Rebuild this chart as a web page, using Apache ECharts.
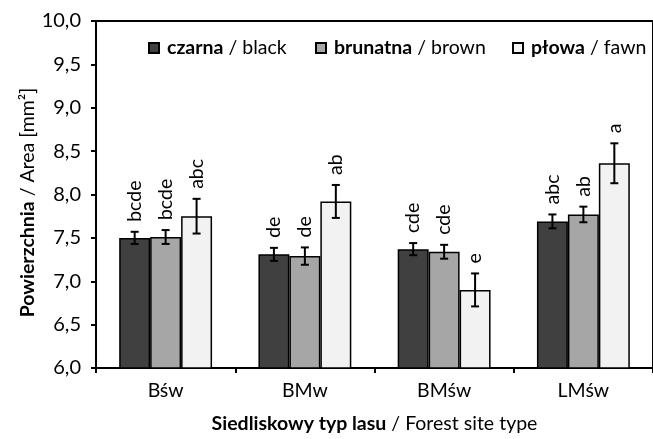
<!DOCTYPE html>
<html>
<head>
<meta charset="utf-8">
<script src="https://cdn.jsdelivr.net/npm/echarts@6/dist/echarts.min.js"></script>
<style>
  html, body { margin: 0; padding: 0; background: #fff; }
  #chart { width: 653px; height: 439px; }
</style>
</head>
<body>
<div id="chart"></div>
<script>
const categories = ['Bśw', 'BMw', 'BMśw', 'LMśw']
const seriesNames = ['czarna', 'brunatna', 'płowa']
const seriesEn = ['black', 'brown', 'fawn']

const blackVals = [7.50, 7.31, 7.37, 7.69]
const brownVals = [7.51, 7.29, 7.34, 7.77]
const fawnVals = [7.75, 7.92, 6.90, 8.36]

const blackErr = [0.07, 0.075, 0.07, 0.08]
const brownErr = [0.08, 0.10, 0.08, 0.09]
const fawnErr = [0.20, 0.19, 0.19, 0.23]

const blackLetters = ['bcde', 'de', 'cde', 'abc']
const brownLetters = ['bcde', 'de', 'cde', 'ab']
const fawnLetters = ['abc', 'ab', 'e', 'a']

const yTicks = { min: 6, max: 10, interval: 0.5 }

const FONT = 'Lato'
const FS = 19.5
const COLORS = ['#404040', '#a6a6a6', '#f2f2f2']
const GAP = 0.333

const values = [blackVals, brownVals, fawnVals]
const errors = [blackErr, brownErr, fawnErr]
const letters = [blackLetters, brownLetters, fawnLetters]

function errItem(si) {
  return function (params, api) {
    const xi = api.value(0)
    const v = api.value(1)
    const e = api.value(2)
    const band = api.size([1, 0])[0]
    const bw = band * (1 - GAP) / 3
    const cx = api.coord([xi, v])[0] + (si - 1) * bw
    const top = api.coord([xi, v + e])[1]
    const bot = api.coord([xi, v - e])[1]
    const st = { stroke: '#000', lineWidth: 2 }
    return {
      type: 'group',
      children: [
        { type: 'line', shape: { x1: cx, y1: top, x2: cx, y2: bot }, style: st },
        { type: 'line', shape: { x1: cx - 4, y1: top, x2: cx + 4, y2: top }, style: st },
        { type: 'line', shape: { x1: cx - 4, y1: bot, x2: cx + 4, y2: bot }, style: st },
        {
          type: 'text', x: cx, y: top - 10, rotation: Math.PI / 2,
          style: {
            text: letters[si][params.dataIndex], fill: '#000',
            font: FS + 'px ' + FONT, align: 'left', verticalAlign: 'middle'
          }
        }
      ]
    }
  }
}

const legendLeft = [143, 310, 507]
const boldRich = { b: { fontFamily: FONT, fontSize: FS, fontWeight: 'bold', color: '#000' } }

const chart = echarts.init(document.getElementById('chart'))
chart.setOption({
  animation: false,
  textStyle: { fontFamily: FONT },
  grid: {
    left: 96, top: 21, right: -7, bottom: 67,
    show: true, borderColor: '#000', borderWidth: 2
  },
  legend: seriesNames.map((n, i) => ({
    data: [n], left: legendLeft[i], top: 33,
    itemWidth: 10, itemHeight: 10, icon: 'rect', itemGap: 0,
    formatter: name => `{b|${name}} / ${seriesEn[i]}`,
    textStyle: { fontFamily: FONT, fontSize: FS, color: '#000', padding: [0, 0, 0, 3], rich: boldRich }
  })),
  xAxis: {
    type: 'category', data: categories,
    name: '{b|Siedliskowy typ lasu} / Forest site type',
    nameLocation: 'middle', nameGap: 46, nameMoveOverlap: false,
    nameTextStyle: { fontFamily: FONT, fontSize: FS, color: '#000', rich: boldRich },
    axisLine: { lineStyle: { color: '#000', width: 2 } },
    axisTick: { show: true, length: 5, lineStyle: { color: '#000', width: 2 } },
    axisLabel: { fontFamily: FONT, fontSize: FS, color: '#000', margin: 13 }
  },
  yAxis: {
    type: 'value', min: yTicks.min, max: yTicks.max, interval: yTicks.interval,
    name: '{b|Powierzchnia} / Area [mm²]',
    nameLocation: 'middle', nameGap: 58, nameRotate: 90, nameMoveOverlap: false,
    nameTextStyle: {
      fontFamily: FONT, fontSize: FS, color: '#000', padding: [0, 16, 0, 0],
      rich: boldRich
    },
    axisLine: { show: true, lineStyle: { color: '#000', width: 2 } },
    axisTick: { show: true, length: 5, lineStyle: { color: '#000', width: 2 } },
    axisLabel: {
      fontFamily: FONT, fontSize: 20, color: '#000', margin: 15,
      formatter: v => v.toFixed(1).replace('.', ',')
    },
    splitLine: { show: false }
  },
  series: [
    ...seriesNames.map((n, i) => ({
      name: n, type: 'bar', data: values[i],
      barGap: '0%', barCategoryGap: (GAP * 100) + '%',
      itemStyle: { color: COLORS[i], borderColor: '#000', borderWidth: 1.5 }
    })),
    ...seriesNames.map((n, i) => ({
      type: 'custom', renderItem: errItem(i), z: 10,
      data: categories.map((c, k) => [k, values[i][k], errors[i][k]])
    }))
  ]
})
</script>
</body>
</html>
